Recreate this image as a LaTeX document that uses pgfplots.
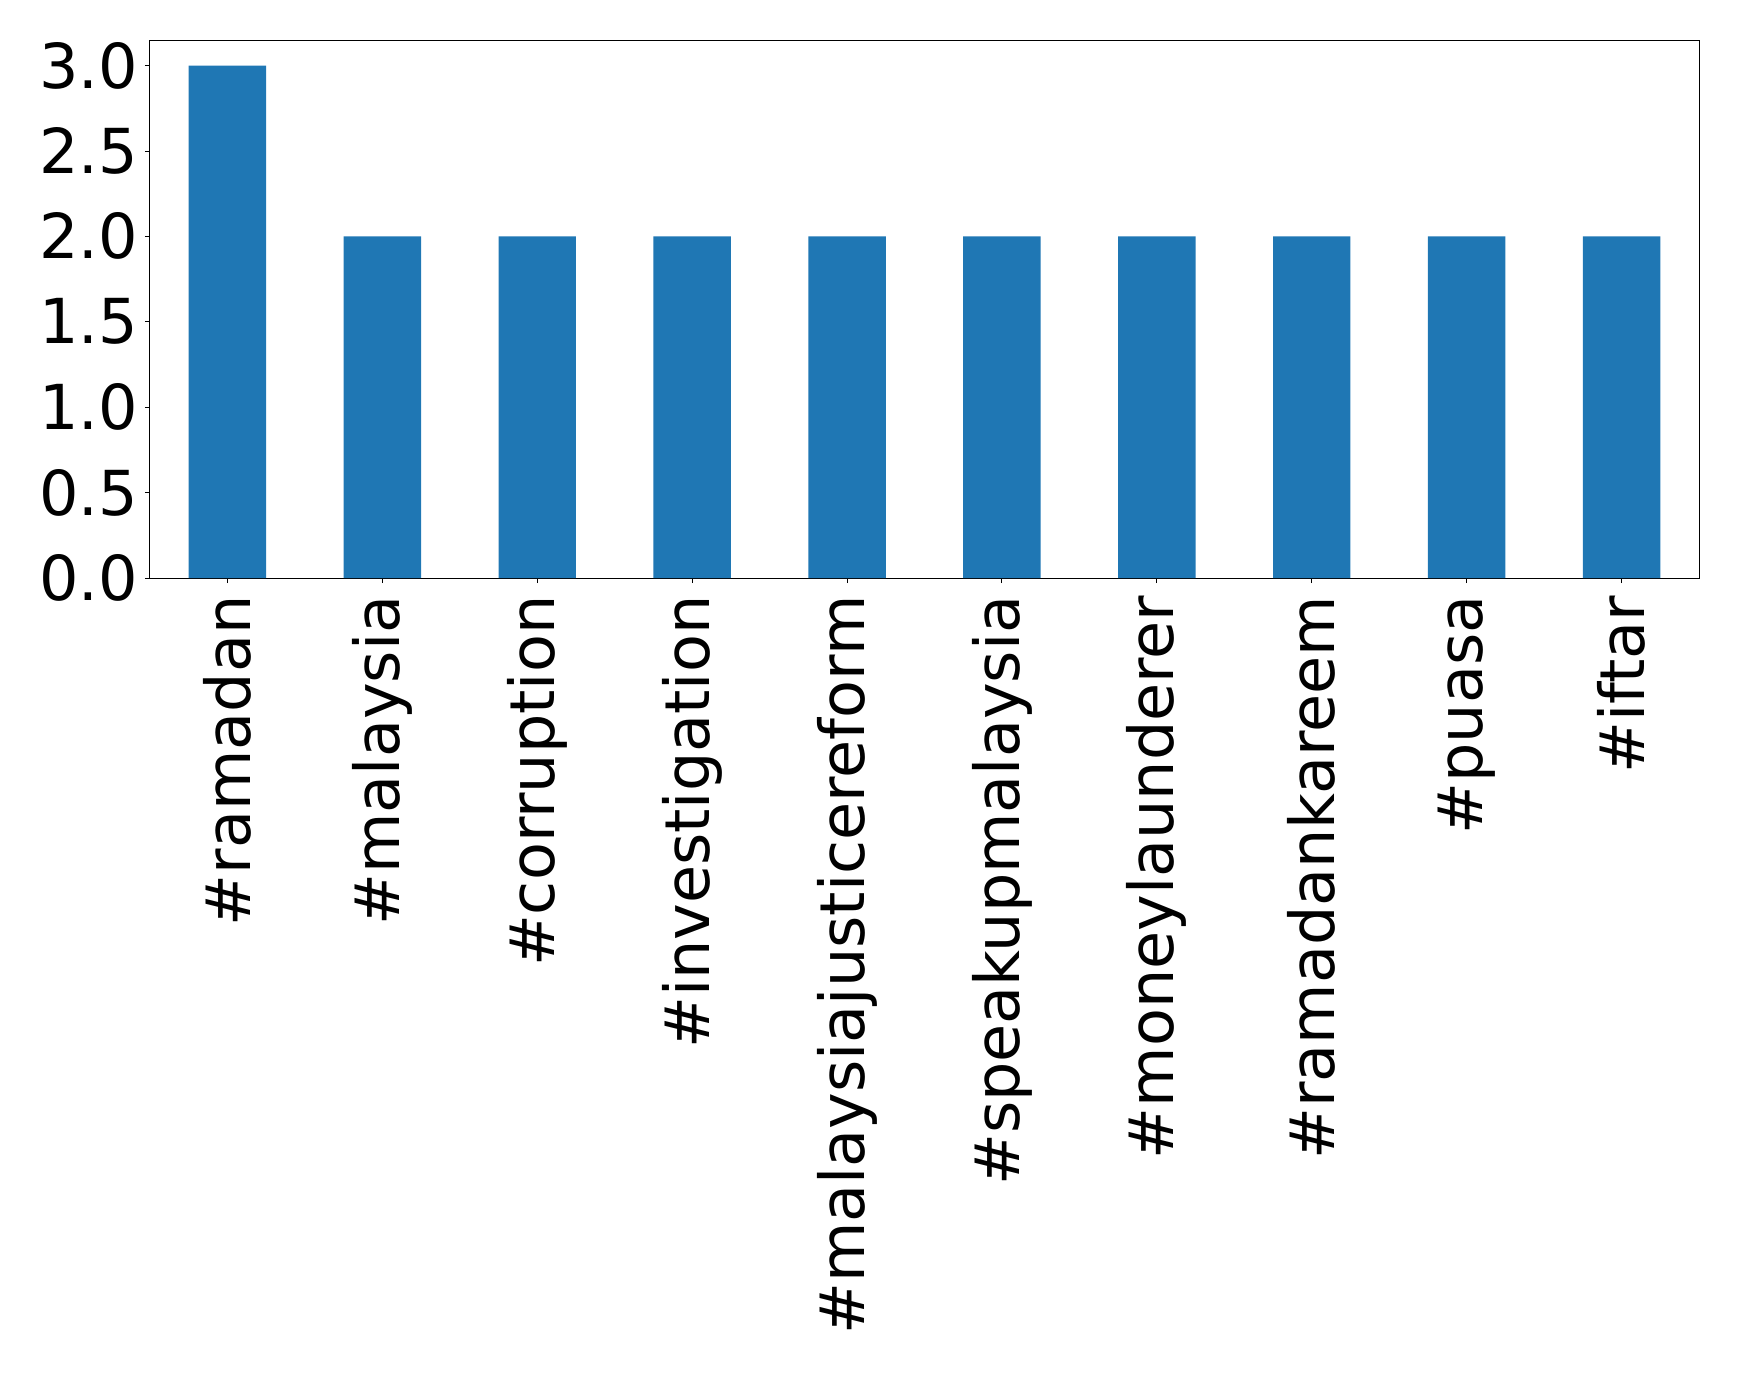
\documentclass[border=0pt]{standalone}
\usepackage{fontspec}
\setmainfont{DejaVu Sans}
\usepackage{pgfplots}
\pgfplotsset{compat=1.18}
\definecolor{barblue}{HTML}{1F77B4}
\begin{document}
\begin{tikzpicture}
\path[use as bounding box] (-75pt,-397.5pt) rectangle (794.5pt,289pt);
\begin{axis}[
  at={(0,0)}, anchor=south west,
  scale only axis, width=774.5pt, height=269pt,
  xmin=-0.5, xmax=9.5, ymin=0, ymax=3.15,
  xtick=data,
  xticklabels={\#ramadan,\#malaysia,\#corruption,\#investigation,\#malaysiajusticereform,\#speakupmalaysia,\#moneylaunderer,\#ramadankareem,\#puasa,\#iftar},
  x tick label style={rotate=90, anchor=east, font=\fontsize{31}{31}\selectfont},
  xticklabel shift=2.8pt,
  ytick={0,0.5,1,1.5,2,2.5,3},
  y tick label style={font=\fontsize{31}{31}\selectfont},
  yticklabel style={/pgf/number format/fixed,/pgf/number format/precision=1,/pgf/number format/fixed zerofill},
  /pgf/number format/assume math mode=true,
  tick align=outside, tick pos=left,
  major tick length=2.5pt,
  axis line style={line width=0.5pt},
  every tick/.style={black, line width=0.5pt},
  ybar, bar width=0.5, bar shift=0pt,
]
\addplot[fill=barblue, draw=none] coordinates {(0,3) (1,2) (2,2) (3,2) (4,2) (5,2) (6,2) (7,2) (8,2) (9,2)};
\end{axis}
\end{tikzpicture}
\end{document}
